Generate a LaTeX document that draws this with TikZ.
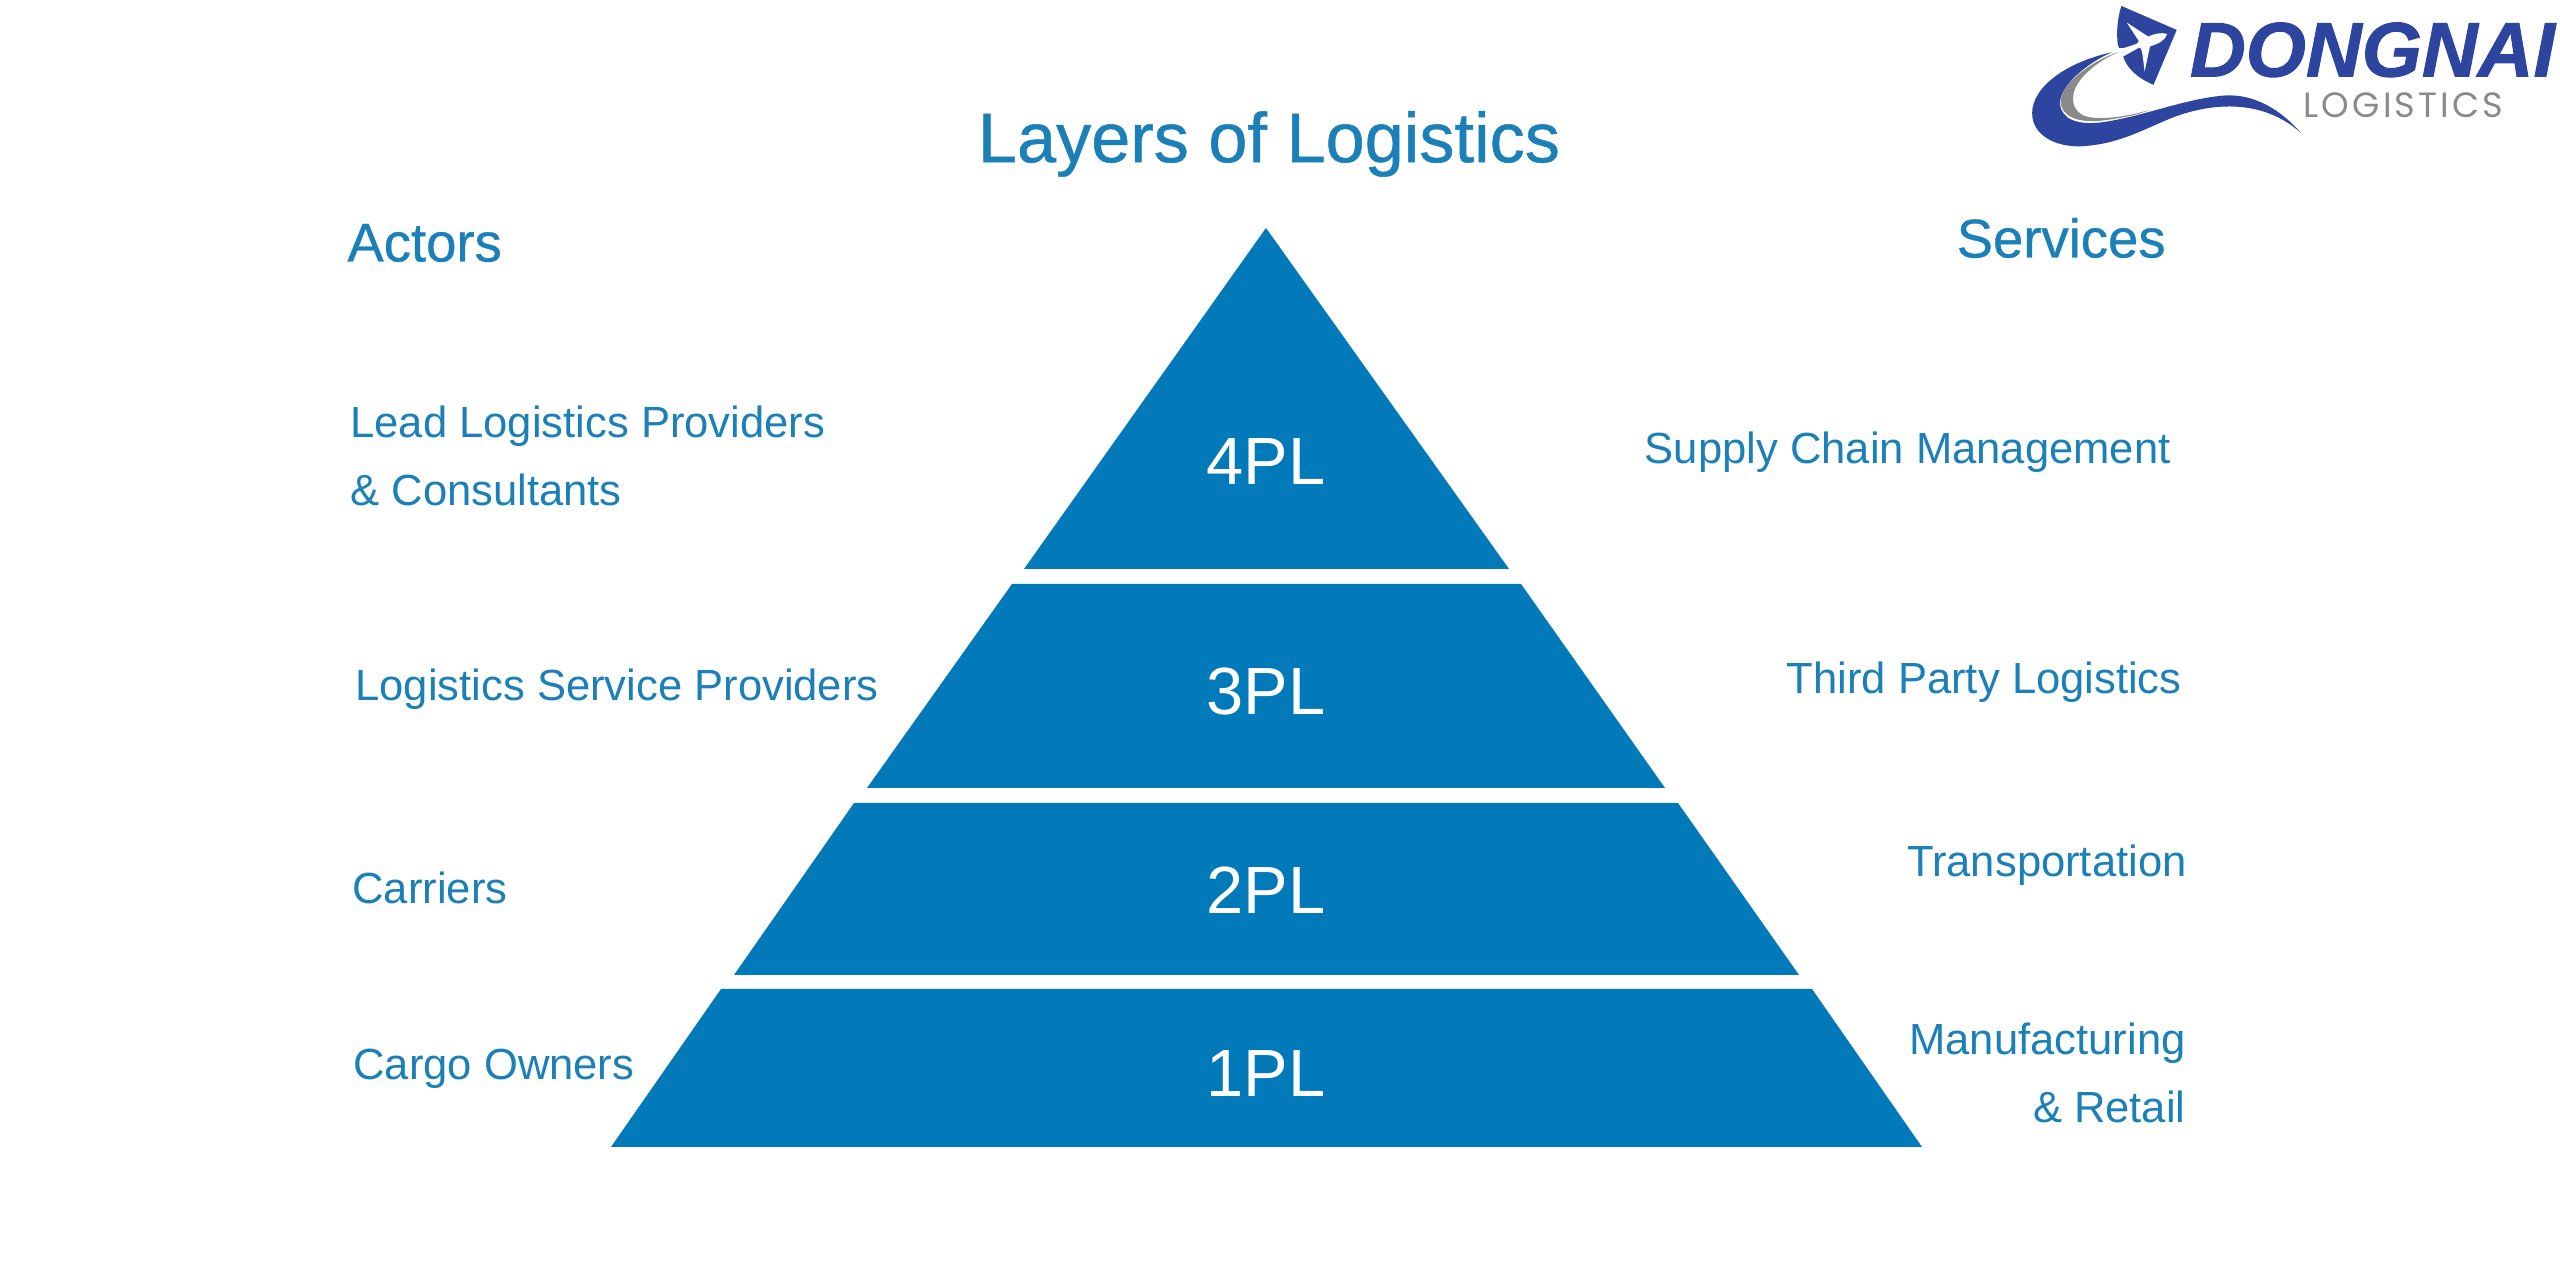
\documentclass[tikz,border=0pt]{standalone}
\usepackage{fontspec}
\setmainfont{Liberation Sans}
\newfontfamily\titlefont[FakeBold=0.7]{Liberation Sans}
\newfontfamily\logofont[FakeBold=1.2]{Liberation Sans Bold Italic}
\newfontfamily\logosubfont[LetterSpace=9]{Poppins}
\definecolor{tierblue}{HTML}{0279B8}
\definecolor{textblue}{HTML}{1B80B8}
\definecolor{logoblue}{HTML}{2E45A0}
\definecolor{logogray}{HTML}{8A8A8A}
\tikzset{
  tier/.style={fill=tierblue},
  tierlabel/.style={text=white,font=\fontsize{19}{22}\selectfont},
  heading/.style={text=textblue,font=\titlefont\fontsize{15.5}{18}\selectfont},
  actor/.style={anchor=west,align=left,text=textblue,font=\fontsize{12.4}{19.4}\selectfont},
  service/.style={anchor=east,align=right,text=textblue,font=\fontsize{12.4}{19.4}\selectfont}
}
\begin{document}
\begin{tikzpicture}
\useasboundingbox (0,0) rectangle (25.6,12.8);

\fill[tier] (12.66,10.52)--(15.09,7.11)--(10.24,7.11)--cycle;
\fill[tier] (10.12,6.96)--(15.21,6.96)--(16.65,4.92)--(8.67,4.92)--cycle;
\fill[tier] (8.54,4.77)--(16.78,4.77)--(17.99,3.05)--(7.34,3.05)--cycle;
\fill[tier] (7.21,2.91)--(18.12,2.91)--(19.22,1.33)--(6.11,1.33)--cycle;

\node[tierlabel] (pl4) at (12.66,8.18) {4PL};
\node[tierlabel] (pl3) at (12.66,5.88) {3PL};
\node[tierlabel] (pl2) at (12.66,3.90) {2PL};
\node[tierlabel] (pl1) at (12.66,2.06) {1PL};

\node[text=textblue,font=\titlefont\fontsize{20}{24}\selectfont] (title) at (12.69,11.36) {Layers of Logistics};
\node[heading,anchor=west] (actors) at (3.35,10.37) {Actors};
\node[heading,anchor=east] (services) at (21.78,10.42) {Services};

\node[actor] (lead) at (3.38,8.24) {Lead Logistics Providers\\\& Consultants};
\node[actor] (lsp) at (3.43,5.91) {Logistics Service Providers};
\node[actor] (carriers) at (3.40,3.92) {Carriers};
\node[actor] (owners) at (3.41,2.11) {Cargo Owners};

\node[service] (scm) at (21.83,8.28) {Supply Chain Management};
\node[service] (tpl) at (21.94,5.98) {Third Party Logistics};
\node[service] (transport) at (21.99,4.15) {Transportation};
\node[service] (retail) at (21.98,2.07) {Manufacturing\\\& Retail};

\begin{scope}[shift={(20,12.8)},x=0.00357cm,y=-0.00333cm]
\fill[logoblue] (340,18)--(495,90)--(430,255) .. controls (385,235) and (355,205) .. (345,170)
  --(330,135) .. controls (325,95) and (330,50) .. (340,18)--cycle;
\fill[white] (468,102) .. controls (450,96) and (430,103) .. (415,110)--(355,68)--(388,122)
  .. controls (390,130) and (385,132) .. (345,145)--(325,145)--(345,170)--(390,143)
  .. controls (397,145) and (398,150) .. (405,215)--(420,140)
  .. controls (445,130) and (460,125) .. (468,102)--cycle;
\fill[logoblue] (315,157) .. controls (190,185) and (90,260) .. (90,340)
  .. controls (90,410) and (160,442) .. (225,440)
  .. controls (330,435) and (400,390) .. (480,355)
  .. controls (600,305) and (740,300) .. (843,400)
  .. controls (770,310) and (690,280) .. (620,288)
  .. controls (510,300) and (400,350) .. (290,367)
  .. controls (220,378) and (170,360) .. (168,310)
  .. controls (168,260) and (240,190) .. (315,157)--cycle;
\fill[logogray] (335,155) .. controls (240,190) and (170,260) .. (170,305)
  .. controls (170,350) and (220,372) .. (290,362)
  .. controls (340,355) and (390,345) .. (420,330)
  .. controls (360,350) and (300,358) .. (260,354)
  .. controls (220,350) and (202,325) .. (205,290)
  .. controls (208,240) and (270,185) .. (335,155)--cycle;
\node[anchor=west,inner sep=0pt,text=logoblue,font=\logofont\fontsize{22}{24}\selectfont] (dongnai) at (530,150) {DONGNAI};
\node[anchor=west,inner sep=0pt,text=logogray,font=\logosubfont\fontsize{10}{12}\selectfont] (logistics) at (848,317) {LOGISTICS};
\end{scope}
\end{tikzpicture}
\end{document}
